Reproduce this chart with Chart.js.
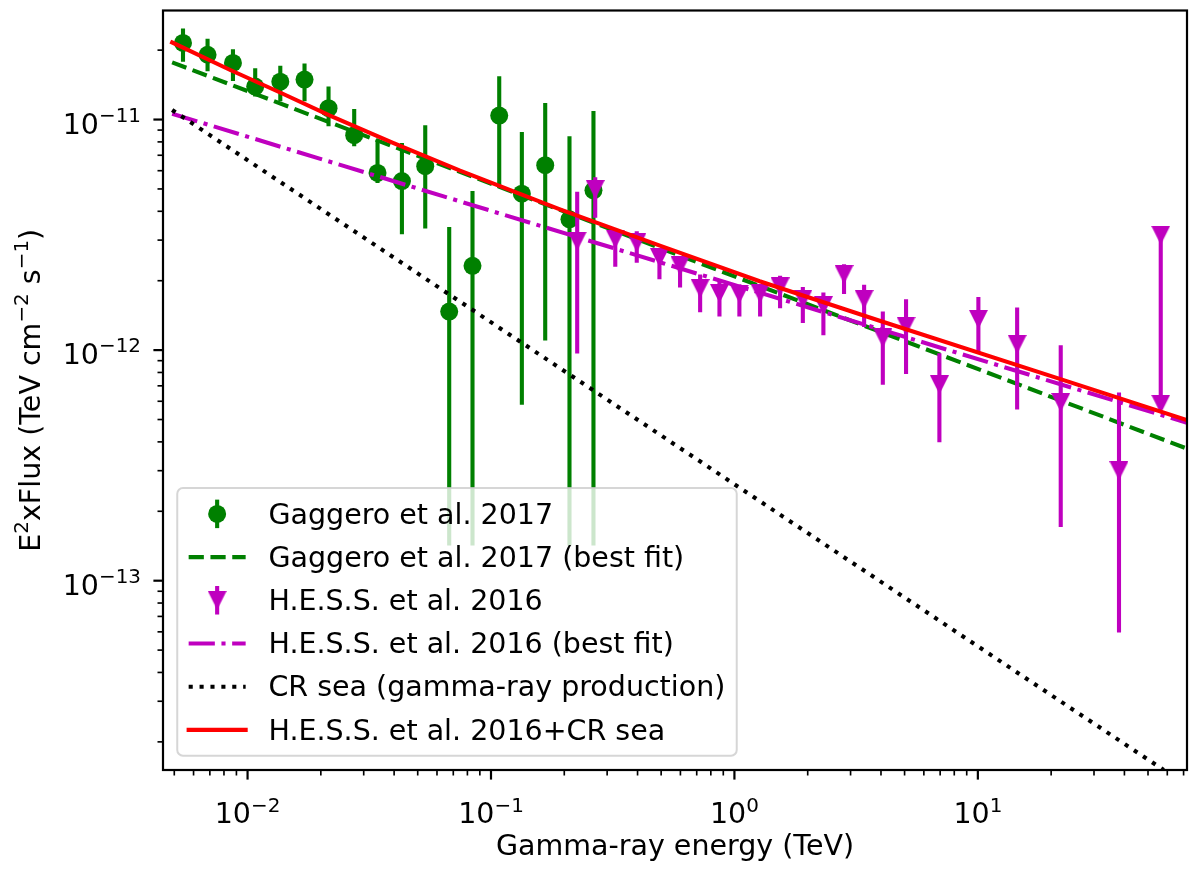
<!DOCTYPE html>
<html>
<head>
<meta charset="utf-8">
<title>Gamma-ray spectrum</title>
<script src="https://cdn.jsdelivr.net/npm/chart.js@4.4.1/dist/chart.umd.min.js"></script>
<style>
  html, body { margin: 0; padding: 0; background: #fff; }
  #wrap { width: 1200px; height: 879px; }
</style>
</head>
<body>
<div id="wrap"><canvas id="specChart" width="1200" height="879"></canvas></div>
<script>
// Gaggero et al. 2017 points (TeV, TeV cm^-2 s^-1)
const gagE = [0.00543, 0.00685, 0.00871, 0.01075, 0.01363, 0.01714, 0.02151, 0.02742, 0.03419,
  0.04306, 0.05369, 0.06735, 0.08395, 0.1081, 0.1339, 0.1670, 0.2101, 0.2636];
const gagFlux = [2.15e-11, 1.91e-11, 1.76e-11, 1.39e-11, 1.46e-11, 1.49e-11, 1.12e-11, 8.55e-12, 5.87e-12,
  5.41e-12, 6.28e-12, 1.47e-12, 2.32e-12, 1.04e-11, 4.77e-12, 6.34e-12, 3.69e-12, 4.93e-12];
const gagHi = [2.48e-11, 2.24e-11, 2.02e-11, 1.67e-11, 1.71e-11, 1.75e-11, 1.39e-11, 1.11e-11, 8.19e-12,
  7.92e-12, 9.45e-12, 3.42e-12, 4.9e-12, 1.54e-11, 8.84e-12, 1.18e-11, 8.47e-12, 1.09e-11];
const gagLo = [1.78e-11, 1.62e-11, 1.47e-11, 1.26e-11, 1.20e-11, 1.20e-11, 9.35e-12, 7.66e-12, 5.3e-12,
  3.18e-12, 3.37e-12, 1.42e-13, 1.42e-13, 5.05e-12, 5.8e-13, 1.10e-12, 1.42e-13, 1.42e-13];

// H.E.S.S. et al. 2016 points
const hessE = [0.226, 0.268, 0.324, 0.397, 0.492, 0.598, 0.723, 0.868, 1.048, 1.275, 1.54, 1.91,
  2.32, 2.82, 3.41, 4.07, 5.07, 6.95, 10.05, 14.5, 21.9, 38.0, 56.4, 56.4];
const hessFlux = [2.97e-12, 4.97e-12, 3.03e-12, 2.92e-12, 2.52e-12, 2.32e-12, 1.85e-12, 1.76e-12, 1.75e-12,
  1.76e-12, 1.88e-12, 1.66e-12, 1.56e-12, 2.13e-12, 1.66e-12, 1.13e-12, 1.27e-12, 7.08e-13, 1.36e-12,
  1.06e-12, 5.93e-13, 3.0e-13, 3.15e-12, 5.83e-13];
const hessHi = [4.86e-12, 5.62e-12, 3.25e-12, 3.28e-12, 2.69e-12, 2.52e-12, 2.13e-12, 2.0e-12, 1.93e-12,
  1.93e-12, 2.10e-12, 1.88e-12, 1.78e-12, 2.36e-12, 1.92e-12, 1.47e-12, 1.66e-12, 9.70e-13, 1.70e-12,
  1.53e-12, 1.05e-12, 6.55e-13, 3.15e-12, 5.83e-13];
const hessLo = [9.66e-13, 3.75e-12, 2.30e-12, 2.39e-12, 2.03e-12, 1.87e-12, 1.46e-12, 1.40e-12, 1.40e-12,
  1.40e-12, 1.52e-12, 1.31e-12, 1.16e-12, 1.75e-12, 1.26e-12, 7.08e-13, 7.87e-13, 3.98e-13, 9.77e-13,
  5.52e-13, 1.71e-13, 5.96e-14, 5.56e-13, 5.83e-13];

// fitted curves
const gagFitE = [0.0049, 72.3];
const gagFitFlux = [1.77e-11, 3.74e-13];
const hessFitE = [0.0049, 72.3];
const hessFitFlux = [1.06e-11, 4.84e-13];
const crSeaE = [0.0049, 58.0];
const crSeaFlux = [1.10e-11, 1.51e-14];
const totalE = [0.0049, 0.00849, 0.0136, 0.0218, 0.0398, 0.0746, 0.192, 0.494, 1.27, 3.95, 21.7, 72.3];
const totalFlux = [2.16e-11, 1.64e-11, 1.31e-11, 1.04e-11, 7.9e-12, 6.0e-12, 4.08e-12, 2.84e-12,
  1.99e-12, 1.34e-12, 7.5e-13, 4.97e-13];

const seriesLabels = ["Gaggero et al. 2017", "Gaggero et al. 2017 (best fit)", "H.E.S.S. et al. 2016",
  "H.E.S.S. et al. 2016 (best fit)", "CR sea (gamma-ray production)", "H.E.S.S. et al. 2016+CR sea"];

// axes (tick labels written as base^exponent)
const xTickVals = [1e-2, 1e-1, 1, 10];
const xTickLabels = ["10^\u22122", "10^\u22121", "10^0", "10^1"];
const yTickVals = [1e-13, 1e-12, 1e-11];
const yTickLabels = ["10^\u221213", "10^\u221212", "10^\u221211"];
const xRange = [0.004494, 72.3];
const yRange = [1.51e-14, 2.971e-11];
const xTitle = "Gamma-ray energy (TeV)";
const yTitle = "E^2_xFlux (TeV cm^\u22122_ s^\u22121_)";

const GREEN = "#008000";
const MAGENTA = "#bf00bf";
const FS = 28.5;
const LW = 4.1;
const FONT = "'DejaVu Sans', sans-serif";

function pts(xs, ys) {
  return xs.map(function (x, i) { return { x: x, y: ys[i] }; });
}

// "a^b_c" -> [[a,false],[b,true],[c,false]]
function mathParts(s) {
  const out = [];
  s.split("^").forEach(function (chunk, i) {
    if (i === 0) { out.push([chunk, false]); return; }
    const cut = chunk.indexOf("_");
    if (cut < 0) { out.push([chunk, true]); return; }
    out.push([chunk.slice(0, cut), true]);
    out.push([chunk.slice(cut + 1), false]);
  });
  return out.filter(function (p) { return p[0].length > 0; });
}

// text with mathtext-like superscripts, anchored at the baseline
function drawMath(ctx, str, x, y, align) {
  const parts = mathParts(str);
  const widths = parts.map(function (p) {
    ctx.font = (p[1] ? FS * 0.7 : FS) + "px " + FONT;
    return ctx.measureText(p[0]).width;
  });
  const total = widths.reduce(function (a, b) { return a + b; }, 0);
  let cx = align === "center" ? x - total / 2 : (align === "right" ? x - total : x);
  ctx.textAlign = "left";
  ctx.textBaseline = "alphabetic";
  parts.forEach(function (p, i) {
    ctx.font = (p[1] ? FS * 0.7 : FS) + "px " + FONT;
    ctx.fillText(p[0], cx, p[1] ? y - 0.41 * FS : y);
    cx += widths[i];
  });
}

// 'v' marker like matplotlib
function triangleDown(size, color) {
  const c = document.createElement("canvas");
  c.width = size;
  c.height = size;
  const g = c.getContext("2d");
  g.fillStyle = color;
  g.beginPath();
  g.moveTo(0, 0);
  g.lineTo(size, 0);
  g.lineTo(size / 2, size);
  g.closePath();
  g.fill();
  return c;
}

// vertical error bars, drawn just under each dataset's markers
const errorBars = {
  id: "errorBars",
  beforeDatasetDraw(chart, args) {
    const ds = chart.data.datasets[args.index];
    if (!ds.errLo) return;
    const { ctx, chartArea: a, scales: { x, y } } = chart;
    ctx.save();
    ctx.beginPath();
    ctx.rect(a.left, a.top, a.right - a.left, a.bottom - a.top);
    ctx.clip();
    ctx.strokeStyle = ds.barColor;
    ctx.lineWidth = LW;
    ds.data.forEach(function (p, i) {
      const px = x.getPixelForValue(p.x);
      ctx.beginPath();
      ctx.moveTo(px, y.getPixelForValue(ds.errHi[i]));
      ctx.lineTo(px, y.getPixelForValue(ds.errLo[i]));
      ctx.stroke();
    });
    ctx.restore();
  }
};

function logMarks(min, max) {
  const out = [];
  for (let e = Math.floor(Math.log10(min)); e <= Math.ceil(Math.log10(max)); e++) {
    for (let m = 1; m <= 9; m++) {
      const v = m * Math.pow(10, e);
      if (v >= min * 0.9999 && v <= max * 1.0001) out.push({ v: v, major: m === 1 });
    }
  }
  return out;
}

// box frame, outward ticks, tick labels and y title
const frameTicks = {
  id: "frameTicks",
  afterDatasetsDraw(chart) {
    const { ctx, chartArea: a, scales: { x, y } } = chart;
    ctx.save();
    ctx.strokeStyle = "#000";
    ctx.fillStyle = "#000";
    ctx.lineWidth = 2.2;
    ctx.strokeRect(a.left, a.top, a.right - a.left, a.bottom - a.top);
    logMarks(x.min, x.max).forEach(function (t) {
      const px = x.getPixelForValue(t.v);
      ctx.lineWidth = t.major ? 2.2 : 1.65;
      ctx.beginPath();
      ctx.moveTo(px, a.bottom);
      ctx.lineTo(px, a.bottom + (t.major ? 9.6 : 5.5));
      ctx.stroke();
    });
    logMarks(y.min, y.max).forEach(function (t) {
      const py = y.getPixelForValue(t.v);
      ctx.lineWidth = t.major ? 2.2 : 1.65;
      ctx.beginPath();
      ctx.moveTo(a.left, py);
      ctx.lineTo(a.left - (t.major ? 9.6 : 5.5), py);
      ctx.stroke();
    });
    x.ticks.forEach(function (t, i) {
      drawMath(ctx, xTickLabels[i], x.getPixelForValue(t.value), a.bottom + 53.3, "center");
    });
    y.ticks.forEach(function (t, i) {
      drawMath(ctx, yTickLabels[i], a.left - 22, y.getPixelForValue(t.value) + 14, "right");
    });
    ctx.translate(40, (a.top + a.bottom) / 2);
    ctx.rotate(-Math.PI / 2);
    drawMath(ctx, yTitle, 0, 0, "center");
    ctx.restore();
  }
};

// matplotlib style legend in lower left
const mplLegend = {
  id: "mplLegend",
  afterDraw(chart) {
    const { ctx, chartArea: a } = chart;
    const left = a.left + 0.5 * FS;
    const bottom = a.bottom - 0.5 * FS;
    const pitch = 43.2;
    const n = chart.data.datasets.length;
    const top = bottom - 0.8 * FS - (n - 1) * pitch - (pitch - 0.5 * FS);
    const hx0 = left + 0.4 * FS;
    const hx1 = hx0 + 2 * FS;
    const hxc = (hx0 + hx1) / 2;
    const textX = hx1 + 0.8 * FS;
    ctx.save();
    ctx.font = FS + "px " + FONT;
    let maxW = 0;
    chart.data.datasets.forEach(function (d) { maxW = Math.max(maxW, ctx.measureText(d.label).width); });
    const right = textX + maxW + 0.4 * FS;

    ctx.beginPath();
    ctx.roundRect(left, top, right - left, bottom - top, 0.2 * FS);
    ctx.fillStyle = "rgba(255,255,255,0.8)";
    ctx.fill();
    ctx.lineWidth = 2;
    ctx.strokeStyle = "rgba(204,204,204,0.8)";
    ctx.stroke();

    chart.data.datasets.forEach(function (d, i) {
      const cy = top + 0.4 * FS + (pitch - 0.5 * FS) / 2 + i * pitch;
      if (d.errLo) {
        ctx.setLineDash([]);
        ctx.lineCap = "butt";
        ctx.strokeStyle = d.barColor;
        ctx.lineWidth = LW;
        ctx.beginPath();
        ctx.moveTo(hxc, cy - 0.5 * FS);
        ctx.lineTo(hxc, cy + 0.5 * FS);
        ctx.stroke();
        if (d.pointStyle === "circle") {
          ctx.fillStyle = d.barColor;
          ctx.beginPath();
          ctx.arc(hxc, cy, d.pointRadius, 0, 2 * Math.PI);
          ctx.fill();
        } else {
          const img = d.pointStyle;
          ctx.drawImage(img, hxc - img.width / 2, cy - img.height / 2);
        }
      } else {
        ctx.setLineDash(d.borderDash || []);
        ctx.lineCap = d.borderCapStyle || "butt";
        ctx.strokeStyle = d.borderColor;
        ctx.lineWidth = d.borderWidth;
        ctx.beginPath();
        ctx.moveTo(hx0, cy);
        ctx.lineTo(hx1, cy);
        ctx.stroke();
      }
      ctx.setLineDash([]);
      ctx.fillStyle = "#000";
      ctx.font = FS + "px " + FONT;
      ctx.textAlign = "left";
      ctx.textBaseline = "alphabetic";
      ctx.fillText(d.label, textX, cy + 9.7);
    });
    ctx.restore();
  }
};

document.addEventListener("DOMContentLoaded", function () {
  Chart.defaults.font.family = FONT;
  Chart.defaults.font.size = FS;
  Chart.defaults.color = "#000";

  const ctx = document.getElementById("specChart").getContext("2d");
  new Chart(ctx, {
    type: "scatter",
    data: {
      datasets: [
        {
          label: seriesLabels[0],
          data: pts(gagE, gagFlux),
          errLo: gagLo, errHi: gagHi, barColor: GREEN,
          pointStyle: "circle", pointRadius: 9,
          pointBackgroundColor: GREEN, pointBorderWidth: 0,
          order: 6
        },
        {
          label: seriesLabels[1],
          data: pts(gagFitE, gagFitFlux),
          showLine: true, pointRadius: 0, borderColor: GREEN, borderWidth: LW,
          borderDash: [15.2, 6.6], clip: 0,
          order: 5
        },
        {
          label: seriesLabels[2],
          data: pts(hessE, hessFlux),
          errLo: hessLo, errHi: hessHi, barColor: MAGENTA,
          pointStyle: triangleDown(19, MAGENTA), pointRadius: 9.5,
          order: 4
        },
        {
          label: seriesLabels[3],
          data: pts(hessFitE, hessFitFlux),
          showLine: true, pointRadius: 0, borderColor: MAGENTA, borderWidth: LW,
          borderDash: [26.2, 6.6, 4.1, 6.6], clip: 0,
          order: 3
        },
        {
          label: seriesLabels[4],
          data: pts(crSeaE, crSeaFlux),
          showLine: true, pointRadius: 0, borderColor: "#000", borderWidth: LW,
          borderDash: [4.1, 6.8], clip: 0,
          order: 2
        },
        {
          label: seriesLabels[5],
          data: pts(totalE, totalFlux),
          showLine: true, pointRadius: 0, borderColor: "#ff0000", borderWidth: LW,
          borderCapStyle: "square", clip: 0,
          order: 1
        }
      ]
    },
    options: {
      responsive: false,
      animation: false,
      devicePixelRatio: 1,
      events: [],
      layout: { padding: { top: 9, right: 13, left: 0, bottom: 0 } },
      plugins: {
        legend: { display: false },
        tooltip: { enabled: false }
      },
      scales: {
        x: {
          type: "logarithmic",
          min: xRange[0],
          max: xRange[1],
          grid: { display: false, drawTicks: false },
          border: { display: false },
          afterBuildTicks: function (scale) {
            scale.ticks = xTickVals.map(function (v) { return { value: v }; });
          },
          ticks: { display: false },
          title: {
            display: true,
            text: xTitle,
            padding: { top: 0, bottom: 14 }
          },
          afterFit: function (scale) {
            scale.height = 109;
            scale.paddingLeft = 0;
            scale.paddingRight = 0;
          }
        },
        y: {
          type: "logarithmic",
          min: yRange[0],
          max: yRange[1],
          grid: { display: false, drawTicks: false },
          border: { display: false },
          afterBuildTicks: function (scale) {
            scale.ticks = yTickVals.map(function (v) { return { value: v }; });
          },
          ticks: { display: false },
          afterFit: function (scale) {
            scale.width = 163;
            scale.paddingTop = 0;
            scale.paddingBottom = 0;
          }
        }
      }
    },
    plugins: [errorBars, frameTicks, mplLegend]
  });
});
</script>
</body>
</html>
